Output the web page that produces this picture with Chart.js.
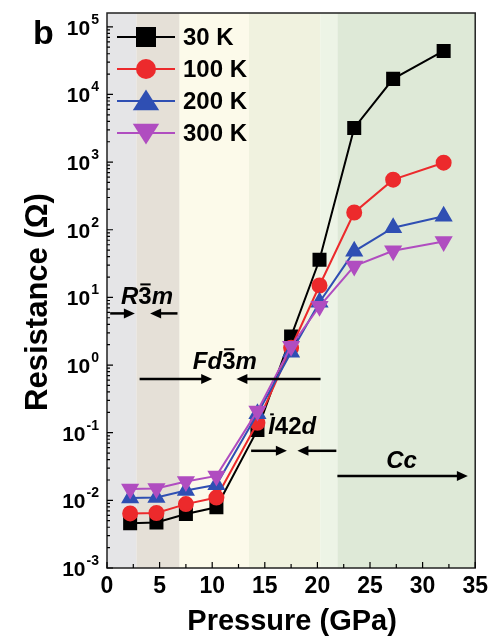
<!DOCTYPE html>
<html>
<head>
<meta charset="utf-8">
<script src="https://cdn.jsdelivr.net/npm/chart.js"></script>
<style>
  html, body { margin: 0; padding: 0; background: #fff; }
  canvas { display: block; }
</style>
</head>
<body>
<canvas id="myChart" width="493" height="637"></canvas>
<script>
// data
const pressure = [2.2, 4.7, 7.5, 10.4, 14.3, 17.5, 20.2, 23.5, 27.2, 32.0];
const r30K  = [0.0046, 0.0047, 0.0063, 0.0079, 0.11, 2.65, 36, 3200, 17000, 44000];
const r100K = [0.0064, 0.0065, 0.0088, 0.011, 0.14, 1.8, 15, 180, 550, 980];
const r200K = [0.0108, 0.011, 0.014, 0.017, 0.19, 1.55, 8.5, 48, 107, 158];
const r300K = [0.0147, 0.015, 0.019, 0.023, 0.21, 1.9, 7.4, 29, 49, 67];
const seriesLabels = ["30 K", "100 K", "200 K", "300 K"];

const xTickValues = [0, 5, 10, 15, 20, 25, 30, 35];
const yDecades = [-3, -2, -1, 0, 1, 2, 3, 4, 5];

// phase regions (GPa)
const bandFrom = [0, 2.8, 6.9, 13.5, 20.3, 21.9];
const bandTo = [2.8, 6.9, 13.5, 20.3, 21.9, 35];
const bandColors = ["#e5e5e7", "#e5e0d7", "#fcfaea", "#f0f2df", "#edf4e6", "#dee9d7"];

// phase labels: text pieces, [text, overline]
const phaseParts = [
  [["R", 0], ["3", 1], ["m", 0]],
  [["Fd", 0], ["3", 1], ["m", 0]],
  [["I", 1], ["42", 0], ["d", 0]],
  [["Cc", 0]]
];
const phaseX = [3.8, 11.2, 17.6, 28.0];
const phaseY = [10, 1.1, 0.12, 0.038];

// arrows: from -> to at resistance level
const arrowFrom = [0.3, 6.7, 3.1, 20.3, 13.7, 21.8, 21.9];
const arrowTo   = [2.65, 4.1, 10.0, 12.3, 17.1, 18.1, 34.3];
const arrowY    = [5.8, 5.8, 0.62, 0.62, 0.054, 0.054, 0.023];

const FONT = '"Liberation Sans", Arial, Helvetica, sans-serif';
const ctx = document.getElementById("myChart");

function pts(vals) {
  return pressure.map((p, i) => ({ x: p, y: vals[i] }));
}

function marker(c, style, x, y, s) {
  c.beginPath();
  if (style === "rect") {
    c.rect(x - s, y - s, 2 * s, 2 * s);
  } else if (style === "circle") {
    c.arc(x, y, s, 0, Math.PI * 2);
  } else if (style === "up") {
    c.moveTo(x, y - s * 1.05);
    c.lineTo(x + s * 1.2, y + s * 0.85);
    c.lineTo(x - s * 1.2, y + s * 0.85);
    c.closePath();
  } else {
    c.moveTo(x, y + s * 1.05);
    c.lineTo(x + s * 1.2, y - s * 0.85);
    c.lineTo(x - s * 1.2, y - s * 0.85);
    c.closePath();
  }
  c.fill();
}

function arrow(c, x1, x2, y) {
  const dir = x2 > x1 ? 1 : -1;
  c.beginPath();
  c.moveTo(x1, y);
  c.lineTo(x2 - dir * 8, y);
  c.stroke();
  c.beginPath();
  c.moveTo(x2, y);
  c.lineTo(x2 - dir * 11, y - 5);
  c.lineTo(x2 - dir * 11, y + 5);
  c.closePath();
  c.fill();
}

const figurePlugin = {
  id: "figure",
  beforeDatasetsDraw(chart) {
    const c = chart.ctx, a = chart.chartArea, xs = chart.scales.x;
    c.save();
    bandFrom.forEach((b, i) => {
      const x1 = xs.getPixelForValue(b), x2 = xs.getPixelForValue(bandTo[i]);
      c.fillStyle = bandColors[i];
      c.fillRect(x1, a.top, x2 - x1, a.bottom - a.top);
    });
    c.restore();
  },
  afterDatasetsDraw(chart) {
    const c = chart.ctx, a = chart.chartArea, xs = chart.scales.x, ys = chart.scales.y;
    c.save();

    // arrows
    c.strokeStyle = "#000";
    c.fillStyle = "#000";
    c.lineWidth = 2.5;
    arrowFrom.forEach((f, i) => {
      arrow(c, xs.getPixelForValue(f), xs.getPixelForValue(arrowTo[i]), ys.getPixelForValue(arrowY[i]));
    });

    // phase labels
    c.textBaseline = "middle";
    c.textAlign = "left";
    phaseParts.forEach((parts, i) => {
      const fontFor = (t) => (/^[0-9]+$/.test(t) ? "bold 24px " : "italic bold 24px ") + FONT;
      let w = 0;
      parts.forEach(([t]) => { c.font = fontFor(t); w += c.measureText(t).width; });
      let x = xs.getPixelForValue(phaseX[i]) - w / 2;
      const y = ys.getPixelForValue(phaseY[i]);
      parts.forEach(([t, bar]) => {
        c.font = fontFor(t);
        const tw = c.measureText(t).width;
        c.fillText(t, x, y);
        if (bar) {
          c.lineWidth = 2;
          c.beginPath();
          c.moveTo(x + 2, y - 13);
          c.lineTo(x + tw - 1, y - 13);
          c.stroke();
        }
        x += tw;
      });
    });

    // frame
    c.lineWidth = 1.5;
    c.strokeStyle = "#222";
    c.strokeRect(a.left, a.top, a.right - a.left, a.bottom - a.top);

    // inward ticks
    c.lineWidth = 1.2;
    c.strokeStyle = "#000";
    c.beginPath();
    for (let v = 0; v <= 35; v += 2.5) {
      const x = xs.getPixelForValue(v);
      const len = v % 5 === 0 ? 6 : 4;
      c.moveTo(x, a.bottom);
      c.lineTo(x, a.bottom - len);
    }
    yDecades.forEach((d) => {
      const y = ys.getPixelForValue(Math.pow(10, d));
      c.moveTo(a.left, y);
      c.lineTo(a.left + 6, y);
      if (d < 5) {
        for (let m = 2; m <= 9; m++) {
          const ym = ys.getPixelForValue(m * Math.pow(10, d));
          c.moveTo(a.left, ym);
          c.lineTo(a.left + 3, ym);
        }
      }
    });
    c.stroke();

    // y tick labels 10^n
    c.fillStyle = "#000";
    c.textBaseline = "alphabetic";
    c.textAlign = "left";
    yDecades.forEach((d) => {
      const y = ys.getPixelForValue(Math.pow(10, d));
      const sup = d < 0 ? "-" + Math.abs(d) : String(d);
      c.font = "bold 14px " + FONT;
      const sw = c.measureText(sup).width;
      const right = 99;
      c.fillText(sup, right - sw, y - 3);
      c.font = "bold 21px " + FONT;
      const bw = c.measureText("10").width;
      c.fillText("10", right - sw - 1 - bw, y + 8);
    });

    // axis titles
    c.textAlign = "center";
    c.textBaseline = "middle";
    c.font = "bold 29px " + FONT;
    c.fillText("Pressure (GPa)", (a.left + a.right) / 2 + 1, 622);
    c.save();
    c.translate(38, 302);
    c.rotate(-Math.PI / 2);
    c.font = "bold 31px " + FONT;
    c.fillText("Resistance (\u03A9)", 0, 0);
    c.restore();

    // panel letter
    c.textAlign = "left";
    c.textBaseline = "alphabetic";
    c.font = "bold 34px " + FONT;
    c.fillText("b", 33, 44);

    // legend
    const styles = ["rect", "circle", "up", "down"];
    const sizes = [10, 10, 11, 11];
    chart.data.datasets.forEach((ds, i) => {
      const y = 37 + i * 32;
      c.strokeStyle = ds.borderColor;
      c.fillStyle = ds.backgroundColor;
      c.lineWidth = 2;
      c.beginPath();
      c.moveTo(117, y);
      c.lineTo(175, y);
      c.stroke();
      marker(c, styles[i], 146, y, sizes[i]);
      c.fillStyle = "#000";
      c.font = "bold 24px " + FONT;
      c.textBaseline = "middle";
      c.fillText(ds.label, 183, y + 1);
    });

    c.restore();
  }
};

new Chart(ctx, {
  type: "line",
  data: {
    datasets: [
      {
        label: seriesLabels[0],
        data: pts(r30K),
        borderColor: "#000000",
        backgroundColor: "#000000",
        pointStyle: "rect",
        pointRadius: 8.5,
        borderWidth: 2,
        order: 4,
      },
      {
        label: seriesLabels[1],
        data: pts(r100K),
        borderColor: "#ec2a2c",
        backgroundColor: "#ec2a2c",
        pointStyle: "circle",
        pointRadius: 7,
        borderWidth: 2,
        order: 3,
      },
      {
        label: seriesLabels[2],
        data: pts(r200K),
        borderColor: "#2f4fb3",
        backgroundColor: "#2f4fb3",
        pointStyle: "triangle",
        pointRadius: 8.5,
        borderWidth: 2,
        order: 2,
      },
      {
        label: seriesLabels[3],
        data: pts(r300K),
        borderColor: "#b04dc0",
        backgroundColor: "#b04dc0",
        pointStyle: "triangle",
        rotation: 180,
        pointRadius: 8.5,
        borderWidth: 2,
        order: 1,
      },
    ],
  },
  options: {
    responsive: false,
    animation: false,
    layout: { padding: { top: 13, right: 16, left: 0, bottom: 0 } },
    plugins: {
      legend: { display: false },
      tooltip: { enabled: false },
    },
    scales: {
      x: {
        type: "linear",
        min: 0,
        max: 35,
        afterBuildTicks: (s) => { s.ticks = xTickValues.map((v) => ({ value: v })); },
        ticks: {
          color: "#000",
          padding: 5,
          font: { family: FONT, size: 23, weight: "bold" },
        },
        grid: { display: false, drawTicks: false },
        border: { display: false },
        afterFit: (s) => { s.height = 69; },
      },
      y: {
        type: "logarithmic",
        min: 1e-3,
        max: 1.6e5,
        ticks: { display: false },
        grid: { display: false, drawTicks: false },
        border: { display: false },
        afterFit: (s) => { s.width = 107; },
      },
    },
  },
  plugins: [figurePlugin],
});
</script>
</body>
</html>
